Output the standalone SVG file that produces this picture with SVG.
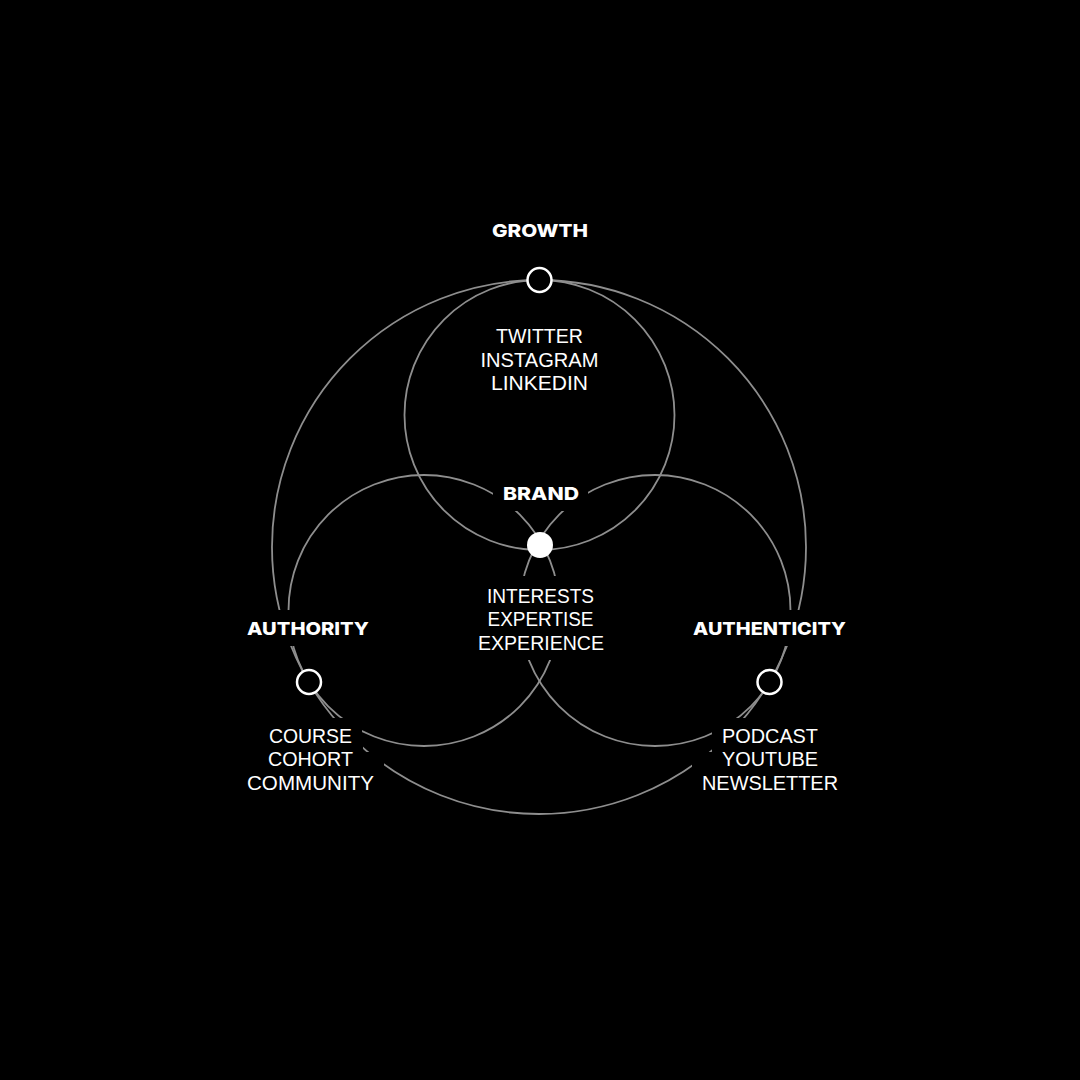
<svg xmlns="http://www.w3.org/2000/svg" width="1080" height="1080" viewBox="0 0 1080 1080">
  <style>
    .ring { fill: none; stroke: #8e8e8e; stroke-width: 1.8; }
    .bg { fill: #000000; }
    .head { font-family: "Inter", "Open Sans", "Liberation Sans", sans-serif; font-weight: 800; font-size: 18px; fill: #ffffff; text-anchor: middle; }
    .sub { font-family: "Liberation Sans", "Open Sans", sans-serif; font-weight: 400; font-size: 19.5px; fill: #ffffff; text-anchor: middle; }
    .node { fill: #000000; stroke: #ffffff; stroke-width: 2.5; }
    .core { fill: #ffffff; }
  </style>
  <rect x="0" y="0" width="1080" height="1080" fill="#000000"/>

  <g id="connectors">
    <circle class="ring" cx="539" cy="547" r="267"/>
    <circle class="ring" cx="539.5" cy="415" r="135"/>
    <circle class="ring" cx="424" cy="610.5" r="135.5"/>
    <circle class="ring" cx="655" cy="610.5" r="135.5"/>
  </g>

  <g id="node-growth">
    <text class="head" x="540" y="237" textLength="96" lengthAdjust="spacingAndGlyphs">GROWTH</text>
    <circle class="node" cx="539.5" cy="280" r="12"/>
    <text class="sub" x="539.5" y="342.5" textLength="87" lengthAdjust="spacingAndGlyphs">TWITTER</text>
    <text class="sub" x="539.5" y="366.5" textLength="118" lengthAdjust="spacingAndGlyphs">INSTAGRAM</text>
    <text class="sub" x="539.5" y="390" textLength="97" lengthAdjust="spacingAndGlyphs">LINKEDIN</text>
  </g>

  <g id="node-brand">
    <rect class="bg" x="493" y="475" width="95" height="36"/>
    <text class="head" x="541" y="500" textLength="76" lengthAdjust="spacingAndGlyphs">BRAND</text>
    <circle class="core" cx="540" cy="545" r="13"/>
    <rect class="bg" x="468" y="576" width="144" height="84"/>
    <text class="sub" x="540.5" y="602.5" textLength="107" lengthAdjust="spacingAndGlyphs">INTERESTS</text>
    <text class="sub" x="540.5" y="626" textLength="106" lengthAdjust="spacingAndGlyphs">EXPERTISE</text>
    <text class="sub" x="541" y="649.5" textLength="126" lengthAdjust="spacingAndGlyphs">EXPERIENCE</text>
  </g>

  <g id="node-authority">
    <rect class="bg" x="237" y="610" width="142" height="36"/>
    <text class="head" x="308" y="635" textLength="122" lengthAdjust="spacingAndGlyphs">AUTHORITY</text>
    <circle class="node" cx="309" cy="682" r="12"/>
    <rect class="bg" x="259" y="718" width="103" height="29"/>
    <rect class="bg" x="258" y="742" width="105" height="29"/>
    <rect class="bg" x="237" y="752" width="147" height="43"/>
    <text class="sub" x="310.5" y="742.5" textLength="83" lengthAdjust="spacingAndGlyphs">COURSE</text>
    <text class="sub" x="310.5" y="766" textLength="85" lengthAdjust="spacingAndGlyphs">COHORT</text>
    <text class="sub" x="310.5" y="789.5" textLength="127" lengthAdjust="spacingAndGlyphs">COMMUNITY</text>
  </g>

  <g id="node-authenticity">
    <rect class="bg" x="683" y="610" width="173" height="36"/>
    <text class="head" x="769.5" y="635" textLength="153" lengthAdjust="spacingAndGlyphs">AUTHENTICITY</text>
    <circle class="node" cx="769.5" cy="682" r="12"/>
    <rect class="bg" x="712" y="718" width="116" height="29"/>
    <rect class="bg" x="712" y="742" width="116" height="29"/>
    <rect class="bg" x="692" y="752" width="156" height="43"/>
    <text class="sub" x="770" y="742.5" textLength="96" lengthAdjust="spacingAndGlyphs">PODCAST</text>
    <text class="sub" x="770" y="766" textLength="96" lengthAdjust="spacingAndGlyphs">YOUTUBE</text>
    <text class="sub" x="770" y="789.5" textLength="136" lengthAdjust="spacingAndGlyphs">NEWSLETTER</text>
  </g>
</svg>
